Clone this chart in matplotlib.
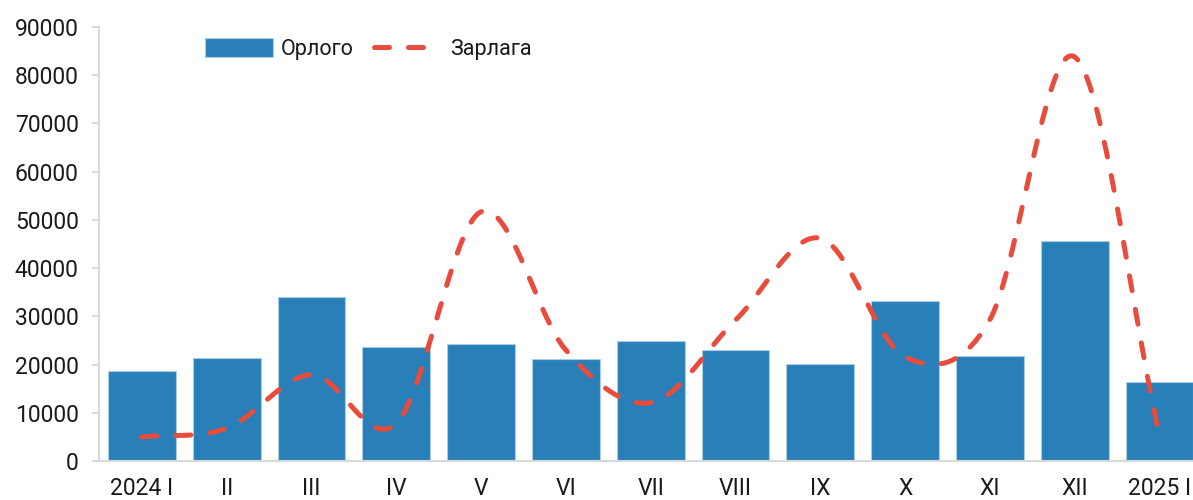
import numpy as np
import matplotlib
matplotlib.use("Agg")
import matplotlib.pyplot as plt

categories = ["2024 I", "II", "III", "IV", "V", "VI", "VII", "VIII", "IX", "X", "XI", "XII", "2025 I"]
orlogo = [18600, 21400, 34000, 23700, 24300, 21200, 24900, 23000, 20100, 33100, 21800, 45600, 16400]
zarlaga = [5000, 6800, 17900, 7800, 51700, 23000, 12100, 29200, 46200, 21600, 29300, 83800, 5300]

BAR_COLOR = "#2980b9"
LINE_COLOR = "#e74c3c"
AXIS_COLOR = "#d9d9d9"
TEXT_COLOR = "#1a1a1a"


def catmull_rom(x, y, steps=40):
    """Smooth curve through the points, similar to a spreadsheet 'smoothed line'."""
    x = np.asarray(x, dtype=float)
    y = np.asarray(y, dtype=float)
    px = np.concatenate([[2 * x[0] - x[1]], x, [2 * x[-1] - x[-2]]])
    py = np.concatenate([[2 * y[0] - y[1]], y, [2 * y[-1] - y[-2]]])
    xs, ys = [], []
    t = np.linspace(0, 1, steps, endpoint=False)
    for i in range(1, len(px) - 2):
        for arr, out in ((px, xs), (py, ys)):
            p0, p1, p2, p3 = arr[i - 1], arr[i], arr[i + 1], arr[i + 2]
            out.extend(0.5 * ((2 * p1) + (-p0 + p2) * t
                              + (2 * p0 - 5 * p1 + 4 * p2 - p3) * t ** 2
                              + (-p0 + 3 * p1 - 3 * p2 + p3) * t ** 3))
    xs.append(x[-1])
    ys.append(y[-1])
    return np.array(xs), np.array(ys)


plt.rcParams["font.family"] = ["Roboto", "DejaVu Sans"]

fig = plt.figure(figsize=(11.93, 5.0), dpi=100)
# right edge of the category axis runs a little past the picture, as in the original
ax = fig.add_axes([0.0834, 0.078, 0.924, 0.868])

pos = np.arange(len(categories))
bars = ax.bar(pos, orlogo, width=0.8, color=BAR_COLOR, edgecolor="#a9cce3",
              linewidth=0.8, label="Орлого", zorder=2)

sx, sy = catmull_rom(pos, zarlaga)
line, = ax.plot(sx, sy, color=LINE_COLOR, linewidth=3.6, linestyle=(0, (3.0, 3.8)),
                dash_capstyle="round", label="Зарлага", zorder=3)

ax.set_xlim(-0.5, 12.5)
ax.set_ylim(0, 90000)
ax.set_yticks(np.arange(0, 90001, 10000))
ax.set_xticks(pos)
ax.set_xticklabels(categories)

for side in ("top", "right"):
    ax.spines[side].set_visible(False)
for side in ("left", "bottom"):
    ax.spines[side].set_color(AXIS_COLOR)
    ax.spines[side].set_linewidth(1.5)

ax.tick_params(axis="y", length=5, width=1.5, color=AXIS_COLOR, pad=10,
               labelsize=16.5, labelcolor=TEXT_COLOR)
ax.tick_params(axis="x", length=0, pad=11.5, labelsize=16.5, labelcolor=TEXT_COLOR)

leg = ax.legend(handles=[bars, line], loc="center left",
                bbox_to_anchor=(0.0957, 0.949), ncol=2,
                frameon=False, fontsize=15.5, handlelength=3.15, handleheight=0.95,
                columnspacing=0.95, handletextpad=0.37, borderpad=0, borderaxespad=0)
for txt in leg.get_texts():
    txt.set_color(TEXT_COLOR)

fig.savefig("out.png", dpi=100)
